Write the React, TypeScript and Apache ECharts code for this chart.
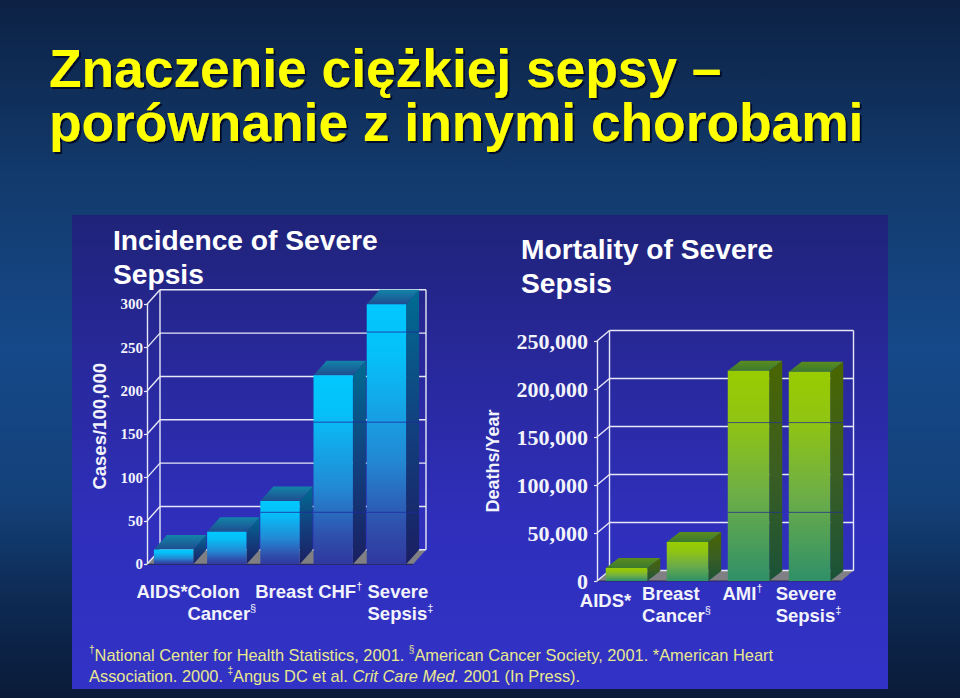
import React, { useEffect, useRef } from "react";
import * as echarts from "echarts";

const slideTitle = "Znaczenie ciężkiej sepsy –\nporównanie z innymi chorobami";

const incidenceTitle = "Incidence of Severe\nSepsis";
const incidenceAxisName = "Cases/100,000";
const incidenceCategories = ["AIDS*", "Colon\nCancer§", "Breast", "CHF†", "Severe\nSepsis‡"];
const incidenceValues = [17, 37.5, 73, 218, 300];
const incidenceTicks = [0, 50, 100, 150, 200, 250, 300];
const incidenceSeams = [60, 164, 268];

const mortalityTitle = "Mortality of Severe\nSepsis";
const mortalityAxisName = "Deaths/Year";
const mortalityCategories = ["AIDS*", "Breast\nCancer§", "AMI†", "Severe\nSepsis‡"];
const mortalityValues = [13500, 40700, 219000, 218000];
const mortalityTicks = [0, 50000, 100000, 150000, 200000, 250000];
const mortalitySeams = [71500, 165000];

const footnoteLine1 =
  "{s|†}{n|National Center for Health Statistics, 2001. }{s|§}{n|American Cancer Society, 2001. *American Heart}";
const footnoteLine2 =
  "{n|Association. 2000. }{s|‡}{n|Angus DC et al. }{i|Crit Care Med.}{n| 2001 (In Press).}";

const SANS = "'Liberation Sans', Arial, sans-serif";
const SERIF = "'Liberation Serif', 'Times New Roman', serif";

const grad = (stops: [number, string][]) =>
  new echarts.graphic.LinearGradient(0, 0, 0, 1, stops.map(([offset, color]) => ({ offset, color })));

const bluePalette = {
  front: [[0, "#00c8ff"], [0.2, "#06c0f8"], [0.6, "#2388d4"], [0.85, "#2f50ac"], [1, "#30389f"]] as [number, string][],
  side: [[0, "#006c92"], [0.5, "#12407e"], [1, "#1a1f62"]] as [number, string][],
  top: [[0, "#1284a8"], [1, "#1f4d90"]] as [number, string][],
  seam: "#2128a0",
};
const greenPalette = {
  front: [[0, "#99cc00"], [0.25, "#8fc414"], [0.6, "#6cad48"], [1, "#2f9068"]] as [number, string][],
  side: [[0, "#4a6600"], [0.5, "#3b5e22"], [1, "#1a5238"]] as [number, string][],
  top: [[0, "#5a8c1e"], [1, "#3c7a2e"]] as [number, string][],
  seam: "#27358a",
};

function wallSeries(ticks: number[], axis: number, dx: number, dy: number) {
  return {
    type: "custom",
    name: "wall",
    xAxisIndex: axis,
    yAxisIndex: axis,
    z: 2,
    silent: true,
    data: ticks.map((t) => [0, t]),
    encode: { y: 1 },
    renderItem: (params: any, api: any) => {
      const cs = params.coordSys;
      const y = api.coord([0, api.value(1)])[1];
      const x0 = cs.x;
      const x1 = cs.x + cs.width;
      const line = { stroke: "#e6e8f5", lineWidth: 1.4 };
      const children: any[] = [];
      if (params.dataIndex === 0) {
        children.push({
          type: "polygon",
          shape: { points: [[x0, y], [x0 + dx, y + dy], [x1 + dx, y + dy], [x1, y]] },
          style: { fill: "#808084" },
        });
        children.push({
          type: "line",
          shape: { x1: x0 + dx, y1: cs.y + dy, x2: x0 + dx, y2: y + dy },
          style: line,
        });
        children.push({
          type: "line",
          shape: { x1: x1 + dx, y1: cs.y + dy, x2: x1 + dx, y2: y + dy },
          style: line,
        });
        children.push({
          type: "line",
          shape: { x1: x0, y1: y, x2: x1, y2: y },
          style: { stroke: "#26265e", lineWidth: 1.2 },
        });
      }
      children.push({
        type: "line",
        shape: { x1: x0 + dx, y1: y + dy, x2: x1 + dx, y2: y + dy },
        style: line,
      });
      children.push({
        type: "line",
        shape: { x1: x0, y1: y, x2: x0 + dx, y2: y + dy },
        style: line,
      });
      return { type: "group", children };
    },
  };
}

function barSeries(
  name: string,
  values: number[],
  seams: number[],
  axis: number,
  widthRatio: number,
  shiftX: number,
  dx: number,
  dy: number,
  palette: typeof bluePalette,
) {
  return {
    type: "custom",
    name,
    xAxisIndex: axis,
    yAxisIndex: axis,
    z: 3,
    silent: true,
    data: values.map((v, i) => [i, v]),
    encode: { x: 0, y: 1 },
    renderItem: (_p: any, api: any) => {
      const [cx, top] = api.coord([api.value(0), api.value(1)]);
      const base = api.coord([api.value(0), 0])[1];
      const w = api.size([1, 0])[0] * widthRatio;
      const l = cx - w / 2 + shiftX;
      const r = l + w;
      const children: any[] = [
        {
          type: "polygon",
          shape: { points: [[r, top], [r + dx, top + dy], [r + dx, base + dy], [r, base]] },
          style: { fill: grad(palette.side) },
        },
        {
          type: "polygon",
          shape: { points: [[l, top], [l + dx, top + dy], [r + dx, top + dy], [r, top]] },
          style: { fill: grad(palette.top) },
        },
        {
          type: "rect",
          shape: { x: l, y: top, width: w, height: base - top },
          style: { fill: grad(palette.front) },
        },
      ];
      seams
        .filter((s) => s < api.value(1))
        .forEach((s) => {
          const y = api.coord([0, s])[1];
          children.push({
            type: "line",
            shape: { x1: l, y1: y, x2: r + dx, y2: y },
            style: { stroke: palette.seam, lineWidth: 1, opacity: 0.8 },
          });
        });
      return { type: "group", children };
    },
  };
}

const supTags = (line: string) =>
  line.replace(/^([^†§‡]*)([†§‡]?)$/, (_m, a, b) => `{t|${a}}` + (b ? `{u|${b}}` : ""));

const labelFormatter = (value: string) => value.split("\n").map(supTags).join("\n");

const labelRich = {
  t: { fontFamily: SANS, fontWeight: "bold", fontSize: 18.5, lineHeight: 22, color: "#f2f3fb", align: "left" },
  u: { fontFamily: SANS, fontWeight: "normal", fontSize: 11, lineHeight: 22, color: "#f2f3fb", align: "left", verticalAlign: "top" },
};

const placed = (value: string, shift: number, down = 0) => ({
  value,
  textStyle: { padding: [down, shift < 0 ? -2 * shift : 0, 0, shift > 0 ? 2 * shift : 0] },
});

const incidenceShifts = [-11.5, -5, 4, 7, 14];
const mortalityShifts = [-22, -12, -7, -2];
const mortalityDown = [7, 0, 0, 0];

export default function App() {
  const ref = useRef<HTMLDivElement>(null);
  useEffect(() => {
    document.body.style.margin = "0";
    const chart = echarts.init(ref.current!, undefined, { renderer: "svg" });
    const yAxisBase = {
      type: "value",
      min: 0,
      nameLocation: "middle",
      splitLine: { show: false },
      axisLine: { show: true, lineStyle: { color: "#e6e8f5", width: 1.4 } },
      axisTick: { show: true, length: 3, lineStyle: { color: "#e6e8f5", width: 1.2 } },
    };
    const xAxisBase = {
      type: "category",
      axisLine: { show: false },
      axisTick: { show: false },
      splitLine: { show: false },
    };
    const nameStyle = { color: "#f2f3fb", fontFamily: SANS, fontWeight: "bold", fontSize: 18.5 };
    const panelTitle = (text: string, left: number, top: number, fontSize: number) => ({
      text,
      left,
      top,
      padding: 0,
      textStyle: { color: "#ffffff", fontFamily: SANS, fontWeight: "bold", fontSize, lineHeight: 34 },
    });
    chart.setOption({
      animation: false,
      backgroundColor: grad([
        [0, "#0c2144"],
        [0.25, "#123a6c"],
        [0.5, "#16498a"],
        [0.72, "#134078"],
        [0.87, "#0d2850"],
        [1, "#0a1b38"],
      ]),
      title: [
        {
          text: slideTitle,
          left: 49,
          top: 41,
          padding: 0,
          textStyle: {
            color: "#ffff00",
            fontFamily: SANS,
            fontWeight: "bold",
            fontSize: 53.3,
            lineHeight: 54,
            textShadowColor: "#04102a",
            textShadowBlur: 1,
            textShadowOffsetX: 2,
            textShadowOffsetY: 2,
          },
        },
        panelTitle(incidenceTitle, 113, 223, 28.2),
        panelTitle(mortalityTitle, 521, 232, 28.2),
      ],
      grid: [
        { left: 147, top: 304.3, width: 266, height: 260 },
        { left: 597, top: 341, width: 244, height: 240 },
      ],
      xAxis: [
        {
          ...xAxisBase,
          gridIndex: 0,
          data: incidenceCategories.map((c, i) => placed(c, incidenceShifts[i])),
          axisLabel: { interval: 0, margin: 16, formatter: labelFormatter, rich: labelRich, hideOverlap: false },
        },
        {
          ...xAxisBase,
          gridIndex: 1,
          data: mortalityCategories.map((c, i) => placed(c, mortalityShifts[i], mortalityDown[i])),
          axisLabel: { interval: 0, margin: 1, formatter: labelFormatter, rich: labelRich, hideOverlap: false },
        },
      ],
      yAxis: [
        {
          ...yAxisBase,
          gridIndex: 0,
          max: incidenceTicks[incidenceTicks.length - 1],
          interval: incidenceTicks[1],
          name: incidenceAxisName,
          nameGap: 38,
          nameTextStyle: { ...nameStyle, padding: [0, 0, 0, 16] },
          axisLabel: { margin: 4, color: "#f2f3fb", fontFamily: SERIF, fontWeight: "bold", fontSize: 15 },
        },
        {
          ...yAxisBase,
          gridIndex: 1,
          max: mortalityTicks[mortalityTicks.length - 1],
          interval: mortalityTicks[1],
          name: mortalityAxisName,
          nameGap: 95,
          nameTextStyle: { ...nameStyle, fontSize: 18 },
          axisLabel: {
            margin: 9,
            color: "#f2f3fb",
            fontFamily: SERIF,
            fontWeight: "bold",
            fontSize: 22,
            formatter: (v: number) => v.toLocaleString("en-US"),
          },
        },
      ],
      graphic: [
        {
          type: "rect",
          z: -10,
          shape: { x: 72, y: 215, width: 816, height: 474 },
          style: { fill: grad([[0, "#1f2378"], [0.3, "#28289a"], [0.65, "#2f2fbc"], [1, "#3232c6"]]) },
        },
        {
          type: "text",
          x: 89,
          y: 644,
          z: 5,
          style: {
            text: footnoteLine1 + "\n" + footnoteLine2,
            rich: {
              n: { fontFamily: SANS, fontSize: 16.4, lineHeight: 21, fill: "#e8e88e", color: "#e8e88e" },
              i: { fontFamily: SANS, fontStyle: "italic", fontSize: 16.4, lineHeight: 21, fill: "#e8e88e", color: "#e8e88e" },
              s: { fontFamily: SANS, fontSize: 10, lineHeight: 21, fill: "#e8e88e", color: "#e8e88e", verticalAlign: "top" },
            },
          },
        },
      ],
      series: [
        wallSeries(incidenceTicks, 0, 13, -14.5),
        barSeries("Incidence", incidenceValues, incidenceSeams, 0, 0.74, 0, 13, -14.5, bluePalette),
        wallSeries(mortalityTicks, 1, 12.5, -10.5),
        barSeries("Mortality", mortalityValues, mortalitySeams, 1, 0.68, -1, 13, -10, greenPalette),
      ],
    });
    return () => chart.dispose();
  }, []);
  return <div ref={ref} style={{ position: "absolute", left: 0, top: 0, width: 960, height: 698 }} />;
}
